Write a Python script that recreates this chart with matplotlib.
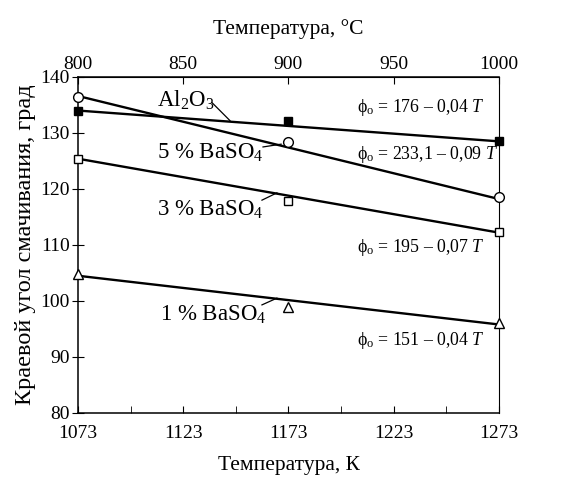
import matplotlib
matplotlib.use("Agg")
import matplotlib.pyplot as plt
import numpy as np

plt.rcParams['font.family'] = ['Liberation Serif', 'DejaVu Serif']
plt.rcParams['mathtext.fontset'] = 'custom'
plt.rcParams['mathtext.rm'] = 'Liberation Serif'
plt.rcParams['mathtext.it'] = 'Liberation Serif:italic'

# Data
temps_K = [1073, 1173, 1273]
al2o3 = [134.0, 132.2, 128.6]
baso4_5 = [136.4, 128.3, 118.5]
baso4_3 = [125.4, 117.8, 112.3]
baso4_1 = [104.8, 98.9, 96.0]

fit_T = [1073, 1273]
fit_al2o3 = [134.0, 128.5]
fit_5 = [136.6, 118.2]
fit_3 = [125.4, 112.2]
fit_1 = [104.5, 95.8]

series_names = ['Al$_2$O$_3$', '5 % BaSO$_4$', '3 % BaSO$_4$', '1 % BaSO$_4$']
equations = ['ϕ$_\\mathrm{o}$ = 176 – 0,04 $T$',
             'ϕ$_\\mathrm{o}$ = 233,1 – 0,09 $T$',
             'ϕ$_\\mathrm{o}$ = 195 – 0,07 $T$',
             'ϕ$_\\mathrm{o}$ = 151 – 0,04 $T$']
xticks_K = [1073, 1123, 1173, 1223, 1273]
xticks_C = [800, 850, 900, 950, 1000]
yticks = [80, 90, 100, 110, 120, 130, 140]

fig = plt.figure(figsize=(5.75, 4.87), dpi=100)
ax = fig.add_axes([0.1357, 0.152, 0.732, 0.69])

lw = 1.7
ax.plot(fit_T, fit_al2o3, color='black', lw=lw)
ax.plot(fit_T, fit_5, color='black', lw=lw)
ax.plot(fit_T, fit_3, color='black', lw=lw)
ax.plot(fit_T, fit_1, color='black', lw=lw)

ax.plot(temps_K, al2o3, 's', color='black', ms=6, clip_on=False, zorder=5)
ax.plot(temps_K, baso4_5, 'o', mfc='white', mec='black', mew=1.0, ms=7, clip_on=False, zorder=5)
ax.plot(temps_K, baso4_3, 's', mfc='white', mec='black', mew=1.0, ms=6, clip_on=False, zorder=5)
ax.plot(temps_K, baso4_1, '^', mfc='white', mec='black', mew=1.0, ms=7, clip_on=False, zorder=5)

ax.set_xlim(1073, 1273)
ax.set_ylim(80, 140)
ax.set_xticks(xticks_K)
ax.set_xticks([1098, 1148, 1198, 1248], minor=True)
ax.set_yticks(yticks)
ax.tick_params(axis='x', which='both', direction='in', length=5, labelsize=14, pad=9)
ax.tick_params(axis='y', direction='inout', length=8, labelsize=14, pad=2)
ax.spines['right'].set_linewidth(0.8)
for s in ['left', 'bottom', 'top']:
    ax.spines[s].set_linewidth(1.1)

sec = ax.secondary_xaxis('top', functions=(lambda k: k - 273, lambda c: c + 273))
sec.set_xticks(xticks_C)
sec.tick_params(direction='in', length=5, labelsize=14, pad=3)
sec.set_xlabel('Температура, °C', fontsize=15.5, labelpad=16)

ax.set_xlabel('Температура, К', fontsize=15.5, labelpad=10)
ax.set_ylabel('Краевой угол смачивания, град', fontsize=17.5, labelpad=3)

# series labels with leader lines
label_pos = [(1110.5, 135.9), (1110.5, 126.4), (1110.5, 116.25), (1112, 97.5)]
leader = [((1136.7, 135.4), (1145.2, 132.2)),
          ((1160.9, 127.5), (1169.5, 128.0)),
          ((1160.4, 118.0), (1167.5, 119.3)),
          ((1160.4, 99.3), (1167.5, 100.5))]
for name, (x, y), (p0, p1) in zip(series_names, label_pos, leader):
    ax.text(x, y, name, fontsize=16.5, ha='left', va='center')
    ax.plot([p0[0], p1[0]], [p0[1], p1[1]], color='black', lw=0.9)

eq_pos = [(1205.5, 134.5), (1205.5, 126.1), (1205.5, 109.5), (1205.5, 93.0)]
for eq, (x, y) in zip(equations, eq_pos):
    ax.text(x, y, eq, fontsize=12.8, ha='left', va='center')

fig.savefig('out.png', dpi=100)
